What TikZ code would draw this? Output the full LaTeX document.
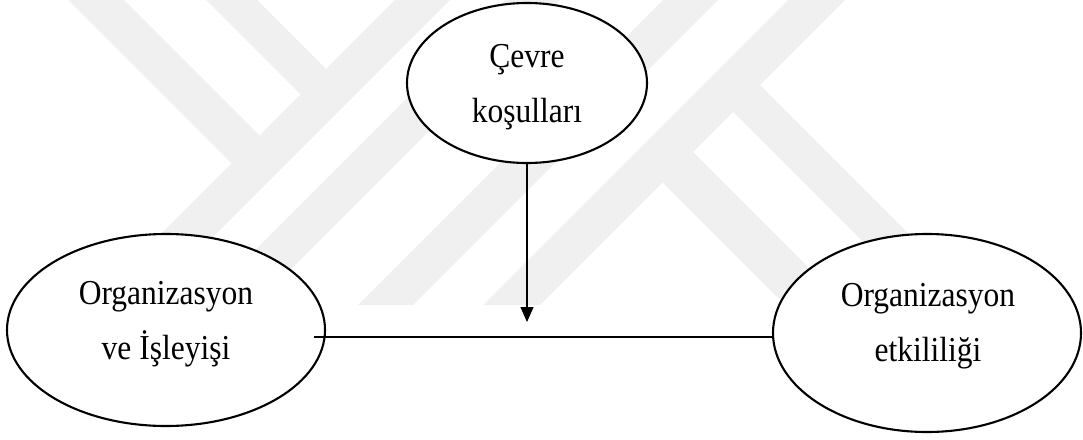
\documentclass[tikz,border=0pt]{standalone}
\usepackage{fontspec}
\setmainfont{Liberation Serif}[FakeStretch=0.9]
\usetikzlibrary{shapes.geometric,arrows.meta}
\tikzset{
  wm/.style={fill=black!6, draw=none},
  oval/.style={ellipse, draw=black, line width=2.1pt, fill=white, inner sep=0pt},
  lbl/.style={align=center, inner sep=0pt, font=\fontsize{35}{55}\selectfont},
  link/.style={draw=black, line width=1.2pt},
}
\begin{document}
\begin{tikzpicture}[x=1pt, y=-1pt]
  \useasboundingbox (0,0) rectangle (1083,439);
  % faint logo bands in the background
  \fill[wm] (68,0) -- (124,0) -- (259.5,135.5) -- (231.5,163.5) -- cycle;
  \fill[wm] (206,0) -- (257,0) -- (326,69) -- (300.5,94.5) -- cycle;
  \fill[wm] (395,0) -- (450,0) -- (145,305) -- (90,305) -- cycle;
  \fill[wm] (505,0) -- (560,0) -- (255,305) -- (200,305) -- cycle;
  \fill[wm] (663,0) -- (718,0) -- (413,305) -- (358,305) -- cycle;
  \fill[wm] (788,0) -- (845,0) -- (540,305) -- (483,305) -- cycle;
  \fill[wm] (662.5,182.5) -- (693,152) -- (846,305) -- (785,305) -- cycle;
  \fill[wm] (733,112) -- (760,85) -- (980,305) -- (926,305) -- cycle;

  % ellipses
  \node[oval, minimum width=240, minimum height=160] (env) at (527,83) {};
  \node[oval, minimum width=318, minimum height=192] (org) at (166,330) {};
  \node[oval, minimum width=308, minimum height=198] (eff) at (927,333) {};

  % their texts
  \node[lbl] (envtxt) at (527,87.5) {Çevre\\koşulları};
  \node[lbl] (orgtxt) at (166,324.5) {Organizasyon\\ve İşleyişi};
  \node[lbl] (efftxt) at (928,326.5) {Organizasyon\\etkililiği};

  % connectors
  \coordinate (hstart) at (314,337);
  \coordinate (tip) at (527,322);
  \draw[link] (hstart) -- (hstart -| eff.west);
  \draw[link, -{Triangle[length=15pt, width=13pt]}] (env.south) -- (tip);
\end{tikzpicture}
\end{document}
